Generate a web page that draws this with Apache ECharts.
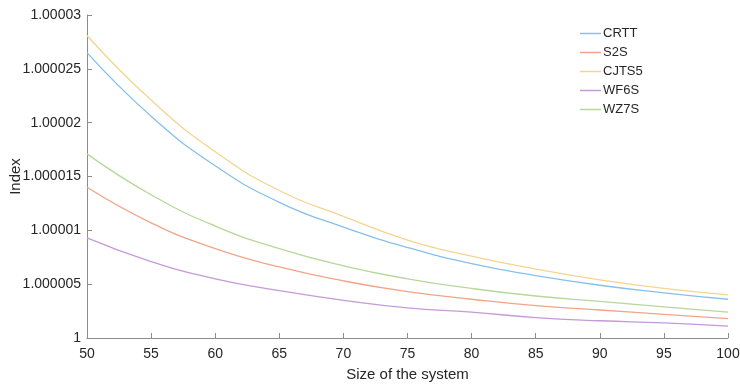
<!DOCTYPE html>
<html>
<head>
<meta charset="utf-8">
<script src="https://cdn.jsdelivr.net/npm/echarts@6/dist/echarts.min.js"></script>
<style>
  html, body { margin: 0; padding: 0; background: #fff; }
  #chart { width: 740px; height: 386px; }
</style>
</head>
<body>
<div id="chart"></div>
<script>
// size of the system
const sizes = [50, 55, 60, 65, 70, 75, 80, 85, 90, 95, 100]

// index values
const crtt  = [1.0000265, 1.0000206, 1.0000160, 1.0000126, 1.0000103, 1.0000084, 1.0000069, 1.0000058, 1.0000049, 1.0000042, 1.0000036]
const s2s   = [1.0000140, 1.0000107, 1.0000083, 1.0000066, 1.0000053, 1.0000043, 1.0000036, 1.0000030, 1.0000026, 1.0000022, 1.0000018]
const cjts5 = [1.0000281, 1.0000221, 1.0000173, 1.0000137, 1.0000113, 1.0000091, 1.0000076, 1.0000064, 1.0000054, 1.0000046, 1.0000040]
const wf6s  = [1.0000093, 1.0000071, 1.0000055, 1.0000044, 1.0000035, 1.0000028, 1.0000024, 1.0000019, 1.0000016, 1.0000014, 1.0000011]
const wz7s  = [1.0000171, 1.0000133, 1.0000104, 1.0000083, 1.0000067, 1.0000055, 1.0000046, 1.0000039, 1.0000034, 1.0000029, 1.0000024]

const names  = ['CRTT', 'S2S', 'CJTS5', 'WF6S', 'WZ7S']
const values = [crtt, s2s, cjts5, wf6s, wz7s]
const colors = ['#86c0ea', '#f1a488', '#f3d58f', '#c59ad6', '#b7d79a']

const font = 'Arial, "Liberation Sans", sans-serif'
const axisColor = '#8c8c8c'

const chart = echarts.init(document.getElementById('chart'))
chart.setOption({
  animation: false,
  grid: {
    left: 87,
    right: 12,
    top: 15,
    bottom: 48,
    containLabel: false,
    outerBoundsMode: 'none'
  },
  legend: {
    orient: 'vertical',
    left: 580,
    top: 24,
    padding: 0,
    icon: 'rect',
    itemWidth: 21,
    itemHeight: 1.5,
    itemGap: 0,
    textStyle: { fontFamily: font, fontSize: 13, color: '#262626', lineHeight: 19, padding: [0, 0, 0, -3] },
    data: names
  },
  xAxis: {
    type: 'value',
    min: 50,
    max: 100,
    interval: 5,
    name: 'Size of the system',
    nameLocation: 'middle',
    nameGap: 29,
    nameMoveOverlap: false,
    nameTextStyle: { fontFamily: font, fontSize: 15, color: '#262626' },
    axisLine: { lineStyle: { color: axisColor } },
    axisTick: { inside: true, length: 5, lineStyle: { color: axisColor } },
    axisLabel: { fontFamily: font, fontSize: 14, color: '#262626', margin: 9 },
    splitLine: { show: false }
  },
  yAxis: {
    type: 'value',
    min: 1,
    max: 1.00003,
    interval: 0.000005,
    name: 'Index',
    nameLocation: 'middle',
    nameGap: 64,
    nameMoveOverlap: false,
    nameTextStyle: { fontFamily: font, fontSize: 15, color: '#262626' },
    axisLine: { show: true, lineStyle: { color: axisColor } },
    axisTick: { show: true, inside: true, length: 5, lineStyle: { color: axisColor } },
    axisLabel: {
      fontFamily: font, fontSize: 14, color: '#262626', margin: 6,
      formatter: v => String(+v.toFixed(6))
    },
    splitLine: { show: false }
  },
  series: names.map((name, i) => ({
    name: name,
    type: 'line',
    symbol: 'none',
    smooth: 0.5,
    color: colors[i],
    lineStyle: { width: 1.3, color: colors[i] },
    data: sizes.map((s, j) => [s, values[i][j]])
  }))
})
</script>
</body>
</html>
